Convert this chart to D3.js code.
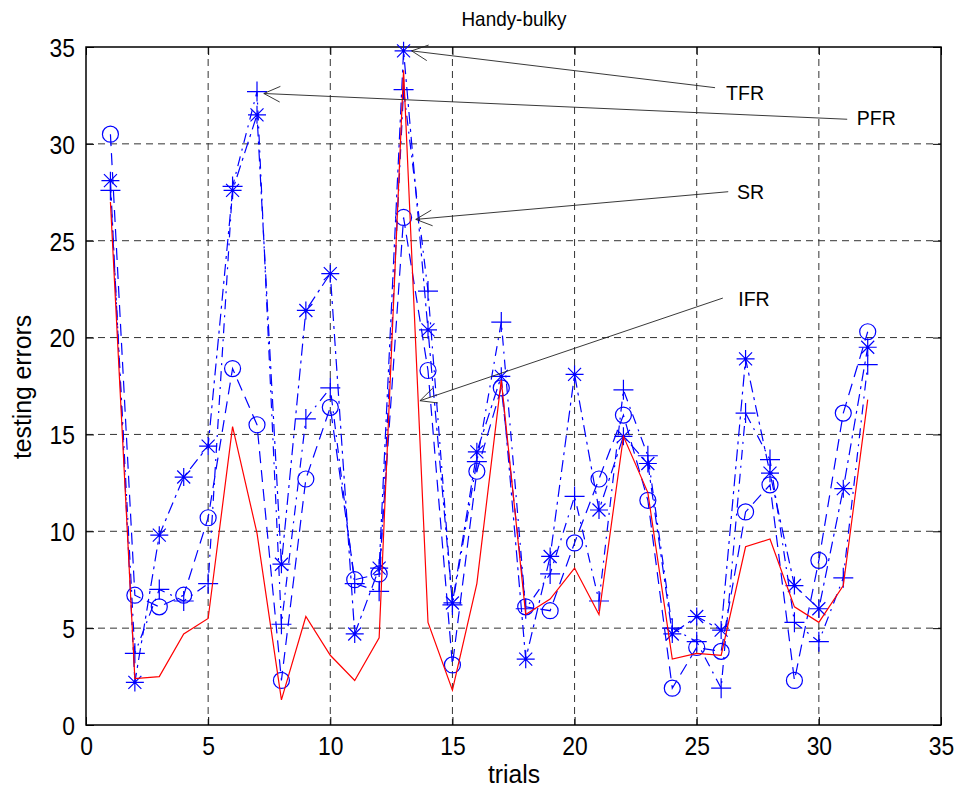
<!DOCTYPE html>
<html>
<head>
<meta charset="utf-8">
<script src="https://cdn.jsdelivr.net/npm/d3@7"></script>
<style>
  body { margin: 0; background: #fff; }
  svg { display: block; font-family: "Liberation Sans", Arial, sans-serif; }
</style>
</head>
<body>
<svg id="chart" width="964" height="798"></svg>
<script>
// trials 1..32
var trials = d3.range(1, 33);
var ifr = [27.0, 2.4, 2.5, 4.7, 5.5, 15.4, 9.9, 1.3, 5.6, 3.6, 2.3, 4.5, 33.8, 5.3, 1.8, 7.3,
           17.8, 5.7, 6.5, 8.1, 5.7, 14.9, 12.0, 3.4, 3.7, 3.6, 9.2, 9.6, 6.1, 5.3, 7.2, 16.8];
var sr  = [30.5, 6.7, 6.1, 6.7, 10.7, 18.4, 15.5, 2.3, 12.7, 16.4, 7.5, 7.8, 26.2, 18.3, 3.1, 13.1,
           17.4, 6.1, 5.9, 9.4, 12.7, 16.0, 11.6, 1.9, 4.0, 3.8, 11.0, 12.4, 2.3, 8.5, 16.1, 20.3];
var tfr = [28.1, 2.2, 9.8, 12.8, 14.4, 27.6, 31.5, 8.3, 21.4, 23.3, 4.7, 8.1, 34.8, 20.4, 6.3, 14.1,
           18.0, 3.4, 8.7, 18.1, 11.1, 14.9, 13.5, 4.7, 5.6, 4.9, 18.9, 13.0, 7.2, 6.0, 12.2, 19.5];
var pfr = [27.6, 3.7, 7.0, 6.4, 7.3, 27.8, 32.7, 5.2, 15.8, 17.4, 7.3, 6.9, 32.8, 22.4, 6.2, 13.6,
           20.8, 6.0, 7.8, 11.8, 6.4, 17.3, 13.9, 5.0, 4.3, 1.9, 16.1, 13.7, 5.3, 4.3, 7.6, 18.6];

var xTicks = [0, 5, 10, 15, 20, 25, 30, 35];
var yTicks = [0, 5, 10, 15, 20, 25, 30, 35];

(function() {
var svg = d3.select("#chart"),
    pl = 86, pr = 941, pt = 47, pb = 725;

var x = d3.scaleLinear().domain([0, 35]).range([pl, pr]),
    y = d3.scaleLinear().domain([0, 35]).range([pb, pt]);

// squeeze text a bit, the matlab export looks narrow
function narrow(sel, k) {
    sel.each(function() {
        var w = this.getComputedTextLength();
        d3.select(this).attr("textLength", w * k).attr("lengthAdjust", "spacingAndGlyphs");
    });
}

// grid
var grid = svg.append("g").attr("stroke", "#333").attr("stroke-width", 1).attr("stroke-dasharray", "7,5");
grid.selectAll(".gx").data(xTicks.slice(1, -1)).enter().append("line")
    .attr("x1", d => x(d)).attr("x2", d => x(d)).attr("y1", pt).attr("y2", pb);
grid.selectAll(".gy").data(yTicks.slice(1, -1)).enter().append("line")
    .attr("y1", d => y(d)).attr("y2", d => y(d)).attr("x1", pl).attr("x2", pr);

// axes, inward ticks like matlab
var xAxis = svg.append("g").attr("transform", "translate(0," + pb + ")")
    .call(d3.axisBottom(x).tickValues(xTicks).tickSizeInner(-8).tickSizeOuter(0).tickPadding(11));
var yAxis = svg.append("g").attr("transform", "translate(" + pl + ",0)")
    .call(d3.axisLeft(y).tickValues(yTicks).tickSizeInner(-8).tickSizeOuter(0).tickPadding(11));
svg.append("g").attr("transform", "translate(0," + pt + ")")
    .call(d3.axisTop(x).tickValues(xTicks).tickSizeInner(-8).tickSizeOuter(0).tickFormat(""));
svg.append("g").attr("transform", "translate(" + pr + ",0)")
    .call(d3.axisRight(y).tickValues(yTicks).tickSizeInner(-8).tickSizeOuter(0).tickFormat(""));
svg.selectAll(".domain").remove();
svg.selectAll(".tick line").attr("stroke", "#000");
svg.selectAll(".tick text").attr("font-size", 26).attr("fill", "#000")
    .attr("font-family", "'Liberation Sans', Arial, sans-serif");
xAxis.selectAll(".tick text").attr("dy", "0.72em");
yAxis.selectAll(".tick text").attr("dy", "0.36em");
narrow(svg.selectAll(".tick text"), 0.88);

svg.append("rect").attr("x", pl).attr("y", pt).attr("width", pr - pl).attr("height", pb - pt)
    .attr("fill", "none").attr("stroke", "#000").attr("stroke-width", 1.5);

var line = d3.line().x((d, i) => x(trials[i])).y(d => y(d));

function series(vals, color, dash, marker) {
    svg.append("path").datum(vals).attr("d", line)
        .attr("fill", "none").attr("stroke", color).attr("stroke-width", 1.2)
        .attr("stroke-dasharray", dash);
    if (!marker) return;
    var g = svg.append("g").attr("stroke", color).attr("stroke-width", 1.2).attr("fill", "none");
    vals.forEach(function(v, i) {
        var cx = x(trials[i]), cy = y(v);
        if (marker == "o") {
            g.append("circle").attr("cx", cx).attr("cy", cy).attr("r", 8);
        } else if (marker == "+") {
            g.append("path").attr("d", "M" + (cx - 10) + "," + cy + "H" + (cx + 10) + "M" + cx + "," + (cy - 10) + "V" + (cy + 10));
        } else if (marker == "*") {
            var s = 9, d = 6.5;
            g.append("path").attr("d",
                "M" + (cx - s) + "," + cy + "H" + (cx + s) +
                "M" + cx + "," + (cy - s) + "V" + (cy + s) +
                "M" + (cx - d) + "," + (cy - d) + "L" + (cx + d) + "," + (cy + d) +
                "M" + (cx - d) + "," + (cy + d) + "L" + (cx + d) + "," + (cy - d));
        }
    });
}

series(sr, "#0000ff", "12,7", "o");
series(tfr, "#0000ff", "12,5,3,5", "*");
series(pfr, "#0000ff", "10,6,2,6", "+");
series(ifr, "#ff0000", null, null);

// annotations: text anchor, arrow tail and arrow tip in data units
var notes = [
    { label: "TFR", tx: 26.2, ty: 32.6, fx: 25.75, fy: 32.9, px: 13.33, py: tfr[12] },
    { label: "PFR", tx: 31.55, ty: 31.34, fx: 31.16, fy: 31.27, px: 7.28, py: pfr[6] - 0.1 },
    { label: "SR",  tx: 26.65, ty: 27.5, fx: 26.29, fy: 27.53, px: 13.5, py: sr[12] - 0.1 },
    { label: "IFR", tx: 26.7, ty: 22.0, fx: 26.07, fy: 22.04, px: 13.67, py: 16.74 }
];
var ann = svg.append("g");
notes.forEach(function(n) {
    var x1 = x(n.fx), y1 = y(n.fy), x2 = x(n.px), y2 = y(n.py);
    var a = Math.atan2(y1 - y2, x1 - x2), L = 18, w = 0.45;
    ann.append("path")
        .attr("d", "M" + x1 + "," + y1 + "L" + x2 + "," + y2 +
            "M" + (x2 + L * Math.cos(a + w)) + "," + (y2 + L * Math.sin(a + w)) + "L" + x2 + "," + y2 +
            "L" + (x2 + L * Math.cos(a - w)) + "," + (y2 + L * Math.sin(a - w)))
        .attr("fill", "none").attr("stroke", "#222").attr("stroke-width", 0.9);
    ann.append("text").attr("x", x(n.tx)).attr("y", y(n.ty) + 7).attr("font-size", 21).text(n.label);
});
narrow(ann.selectAll("text"), 0.93);

var title = svg.append("text").attr("x", 514).attr("y", 26).attr("text-anchor", "middle").attr("font-size", 21).text("Handy-bulky");
narrow(title, 0.9);
var xl = svg.append("text").attr("x", 514).attr("y", 783).attr("text-anchor", "middle").attr("font-size", 26).text("trials");
var yl = svg.append("text").attr("transform", "translate(31,387) rotate(-90)").attr("text-anchor", "middle")
    .attr("font-size", 26).text("testing errors");
narrow(xl, 0.95);
narrow(yl, 0.95);
})();
</script>
</body>
</html>
